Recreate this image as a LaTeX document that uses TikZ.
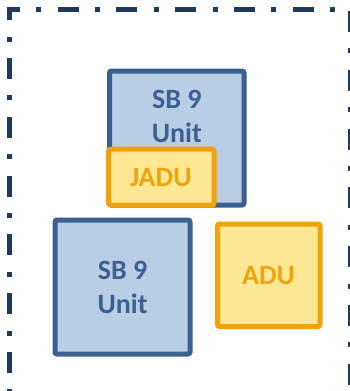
\documentclass[tikz,border=0pt]{standalone}
\usepackage{fontspec}
\setmainfont{Carlito}
\definecolor{framecol}{HTML}{1F3A5C}
\definecolor{unitline}{HTML}{3A6191}
\definecolor{unitfill}{HTML}{B9CDE5}
\definecolor{aduline}{HTML}{F0A30A}
\definecolor{adufill}{HTML}{FFE893}
\begin{document}
\begin{tikzpicture}[x=1pt,y=-1pt,
  lotframe/.style={draw=framecol, line width=5pt, line join=miter,
    dash pattern=on 21pt off 16.4pt on 5pt off 16.4pt, dash phase=10.5pt},
  unitbox/.style={draw=unitline, fill=unitfill, line width=5pt,
    rounded corners=2pt, inner sep=0pt},
  adubox/.style={draw=aduline, fill=adufill, line width=5pt,
    rounded corners=2pt, inner sep=0pt},
  unittext/.style={text=unitline, font=\fontsize{28}{34}\selectfont\bfseries,
    align=center, inner sep=0pt},
  adutext/.style={text=aduline, font=\fontsize{28}{34}\selectfont\bfseries,
    inner sep=0pt}]
\useasboundingbox (0,0) rectangle (350,391);
% dash-dot lot boundary, running past the right and bottom edges
\begin{scope}
  \clip (0,0) rectangle (350,391);
  \coordinate (fA) at (9.2,421.3);
  \coordinate (fB) at (9.2,9.7);
  \coordinate (fC) at (350.3,9.7);
  \coordinate (fD) at (350.3,421.3);
  \draw[lotframe] (fA) -- (fB) -- (fC) -- (fD);
\end{scope}
% upper SB 9 unit with its JADU
\node[unitbox, minimum width=134.5pt, minimum height=134pt] (unitA) at (176.75,138) {};
\node[unittext] (unitAtxt) at (176.75,116.5) {SB 9\\Unit};
\node[adubox, minimum width=105.5pt, minimum height=55.8pt] (jadu) at (161.25,177.1) {};
\node[adutext] (jadutxt) at (160.8,177.5) {JADU};
% lower SB 9 unit and detached ADU
\node[unitbox, minimum width=135pt, minimum height=134pt] (unitB) at (122.5,287) {};
\node[unittext] (unitBtxt) at (122.5,287.5) {SB 9\\Unit};
\node[adubox, minimum width=102.5pt, minimum height=102.5pt] (adu) at (268.75,275.25) {};
\node[adutext] (adutxt) at (268.5,276) {ADU};
\end{tikzpicture}
\end{document}
